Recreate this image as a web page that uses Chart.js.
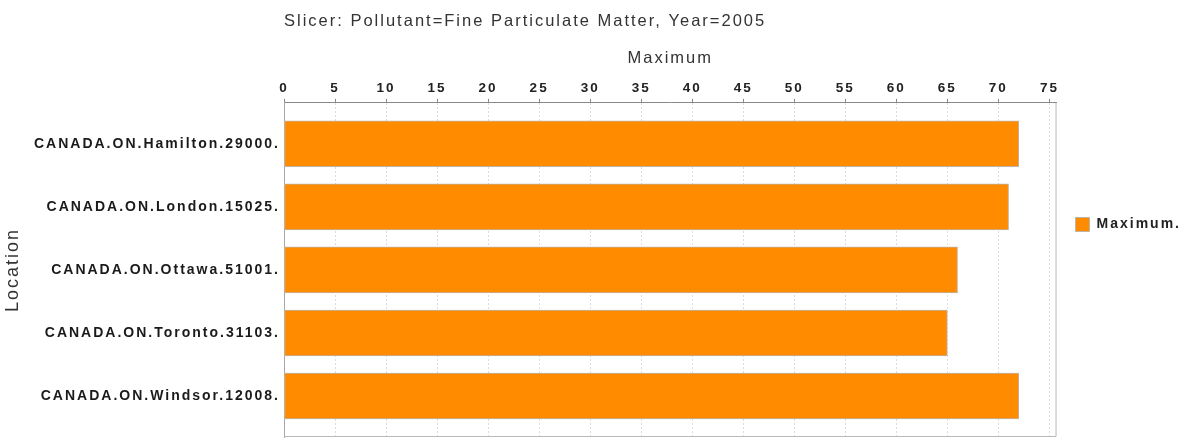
<!DOCTYPE html>
<html>
<head>
<meta charset="utf-8">
<script src="https://cdn.jsdelivr.net/npm/chart.js@4/dist/chart.umd.min.js"></script>
<style>
  html, body { margin: 0; padding: 0; background: #fff; }
  #wrap { width: 1191px; height: 438px; }
</style>
</head>
<body>
<div id="wrap"><canvas id="maxChart"></canvas></div>
<script>
const locations = [
    'CANADA.ON.Hamilton.29000.',
    'CANADA.ON.London.15025.',
    'CANADA.ON.Ottawa.51001.',
    'CANADA.ON.Toronto.31103.',
    'CANADA.ON.Windsor.12008.'
];
const maximumValues = [72, 71, 66, 65, 72];
const xTickValues = [0, 5, 10, 15, 20, 25, 30, 35, 40, 45, 50, 55, 60, 65, 70, 75];

const FONT = "'Liberation Sans', Arial, sans-serif";

// old-style renderer look: every string is drawn with a little tracking
const letterSpacing = {
    id: 'letterSpacing',
    beforeLayout(chart) { chart.ctx.letterSpacing = '2px'; },
    beforeDraw(chart) { chart.ctx.letterSpacing = '2px'; }
};

// right and bottom edges of the plot box
const plotFrame = {
    id: 'plotFrame',
    beforeDatasetsDraw(chart) {
        const { ctx, chartArea: { left, top, right, bottom } } = chart;
        ctx.save();
        ctx.strokeStyle = '#b8b8b8';
        ctx.lineWidth = 1;
        ctx.beginPath();
        ctx.moveTo(right - 0.5, top);
        ctx.lineTo(right - 0.5, bottom - 0.5);
        ctx.lineTo(left, bottom - 0.5);
        ctx.stroke();
        ctx.restore();
    }
};

new Chart(document.getElementById('maxChart'), {
    type: 'bar',
    data: {
        datasets: [{
            label: 'Maximum.',
            data: maximumValues.map((v, i) => ({ x: v, y: i })),
            backgroundColor: '#FF8C00',
            borderColor: '#bfb3a6',
            borderWidth: 1,
            borderSkipped: false,
            barThickness: 46
        }]
    },
    plugins: [letterSpacing, plotFrame],
    options: {
        indexAxis: 'y',
        responsive: true,
        maintainAspectRatio: false,
        animation: false,
        layout: { padding: { top: 12, right: 0, bottom: 1, left: 0 } },
        plugins: {
            title: {
                display: true,
                text: 'Slicer: Pollutant=Fine Particulate Matter, Year=2005',
                align: 'start',
                fullSize: false,
                color: '#333',
                font: { family: FONT, size: 16.5, weight: 'normal' },
                padding: { top: 0, bottom: 13 }
            },
            legend: {
                position: 'right',
                labels: {
                    boxWidth: 14,
                    boxHeight: 14,
                    padding: 19,
                    color: '#222',
                    font: { family: FONT, size: 14, weight: 'bold' }
                }
            },
            tooltip: { enabled: false }
        },
        scales: {
            x: {
                type: 'linear',
                position: 'top',
                min: 0,
                max: 75.7,
                afterBuildTicks: scale => {
                    scale.ticks = xTickValues.map(v => ({ value: v }));
                },
                ticks: {
                    color: '#222',
                    padding: 2,
                    font: { family: FONT, size: 13.5, weight: 'bold' }
                },
                grid: {
                    color: '#dcdcdc',
                    tickColor: '#888',
                    tickLength: 4
                },
                border: { color: '#888', dash: [2, 2] },
                title: {
                    display: true,
                    text: 'Maximum',
                    color: '#333',
                    font: { family: FONT, size: 16.5 },
                    padding: { top: 4, bottom: 10 }
                }
            },
            y: {
                type: 'linear',
                reverse: true,
                offset: false,
                min: -0.65,
                max: 4.65,
                afterBuildTicks: scale => {
                    scale.ticks = locations.map((_, i) => ({ value: i }));
                },
                afterFit: scale => {
                    // labels sit well inside the axis, no overhang room needed
                    scale.width = 284;
                    scale.paddingTop = 0;
                    scale.paddingBottom = 0;
                },
                ticks: {
                    color: '#1a1a1a',
                    padding: 4,
                    font: { family: FONT, size: 14, weight: 'bold' },
                    callback: value => locations[value]
                },
                grid: { display: false, drawTicks: false, offset: false },
                border: { display: true, color: '#a8a8a8' },
                title: {
                    display: true,
                    text: 'Location',
                    color: '#333',
                    font: { family: FONT, size: 18 },
                    padding: { top: 2, bottom: 0 }
                }
            }
        }
    }
});
</script>
</body>
</html>
